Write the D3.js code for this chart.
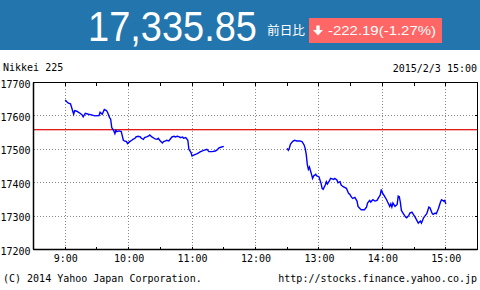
<!DOCTYPE html>
<html><head><meta charset="utf-8">
<script src="https://cdn.jsdelivr.net/npm/d3@7"></script>
<style>html,body{margin:0;padding:0;background:#fff;} svg{display:block;}</style>
</head><body><svg id="c" width="480" height="290"></svg>
<script>
const title = "Nikkei 225";
const dateLabel = "2015/2/3 15:00";
const lastPrice = "17,335.85";
const changeLabel = "前日比";
const changeText = "-222.19(-1.27%)";
const copyright = "(C) 2014 Yahoo Japan Corporation.";
const url = "http://stocks.finance.yahoo.co.jp";
const prevClose = 17558.04;
const yTicks = [17200, 17300, 17400, 17500, 17600, 17700];
const xTickLabels = ["9:00", "10:00", "11:00", "12:00", "13:00", "14:00", "15:00"];
const xMinorTicks = ["9:30", "10:30", "11:30", "12:30", "13:30", "14:30"];
const xDomain = ["8:30", "15:30"];

const amTimes = ["9:00","9:02","9:03","9:05","9:06","9:08","9:09","9:11","9:13","9:14","9:16","9:17","9:19","9:22","9:25","9:28","9:32","9:33","9:35","9:37","9:39","9:40","9:42","9:43","9:44","9:46","9:47","9:48","9:49","9:51","9:53","9:54","9:55","9:56","9:58","9:59","10:01","10:03","10:04","10:06","10:07","10:09","10:11","10:12","10:14","10:15","10:17","10:19","10:20","10:22","10:24","10:25","10:27","10:28","10:30","10:32","10:33","10:35","10:36","10:38","10:40","10:41","10:43","10:44","10:46","10:48","10:49","10:51","10:52","10:54","10:56","10:57","10:58","10:59","11:00","11:02","11:05","11:08","11:11","11:14","11:16","11:19","11:22","11:24","11:25","11:26","11:28","11:30"];
const amValues = [17648,17641,17638,17636,17626,17605,17616,17614,17610,17608,17603,17597,17608,17605,17603,17600,17601,17611,17605,17619,17616,17611,17595,17590,17565,17555,17547,17557,17553,17555,17553,17540,17527,17525,17523,17517,17523,17527,17530,17533,17537,17539,17537,17533,17530,17535,17537,17540,17543,17537,17533,17531,17530,17533,17525,17519,17523,17525,17527,17525,17533,17537,17539,17537,17539,17537,17535,17537,17533,17535,17527,17500,17495,17490,17480,17483,17487,17493,17497,17500,17493,17493,17495,17499,17503,17505,17507,17509];

const pmTimes = ["12:30","12:31","12:32","12:33","12:35","12:36","12:37","12:39","12:42","12:44","12:46","12:47","12:48","12:49","12:50","12:51","12:53","12:54","12:55","12:57","12:58","13:00","13:02","13:03","13:04","13:06","13:07","13:08","13:10","13:11","13:14","13:15","13:17","13:18","13:20","13:21","13:23","13:26","13:27","13:28","13:29","13:31","13:32","13:34","13:36","13:37","13:39","13:40","13:43","13:45","13:46","13:48","13:49","13:51","13:53","13:55","13:56","13:58","13:59","14:00","14:02","14:04","14:05","14:07","14:08","14:09","14:10","14:12","14:14","14:15","14:16","14:17","14:18","14:20","14:22","14:23","14:25","14:26","14:28","14:29","14:31","14:33","14:34","14:36","14:37","14:39","14:40","14:42","14:44","14:45","14:47","14:48","14:50","14:51","14:53","14:55","14:56","14:58","14:59","15:00"];
const pmValues = [17503,17497,17503,17515,17523,17525,17527,17525,17525,17523,17513,17503,17485,17455,17440,17447,17425,17413,17420,17425,17420,17418,17398,17383,17380,17393,17403,17396,17406,17413,17410,17413,17408,17400,17403,17393,17388,17383,17376,17368,17366,17356,17353,17356,17345,17329,17322,17319,17319,17327,17339,17347,17342,17349,17345,17347,17353,17363,17380,17370,17360,17349,17342,17329,17337,17327,17339,17329,17335,17360,17358,17342,17317,17307,17297,17295,17302,17309,17312,17307,17297,17285,17279,17285,17279,17295,17299,17307,17327,17325,17309,17305,17309,17307,17322,17342,17349,17345,17347,17336];

const svg = d3.select("#c");
const parse = d3.timeParse("%H:%M");
const L = 33.5, R = 477.5, T = 82.5, B = 249.5;
const x = d3.scaleTime().domain(xDomain.map(parse)).range([L, R]);
const y = d3.scaleLinear().domain([yTicks[0], yTicks[yTicks.length - 1]]).range([B, T]);
const snap = v => Math.round(v - 0.5) + 0.5;

// header
svg.append("rect").attr("x", 0).attr("y", 0).attr("width", 480).attr("height", 50).attr("fill", "#2375ad");
svg.append("text").attr("transform", "translate(88,41) scale(1,1.12)").attr("fill", "#fff")
  .attr("font-family", "Liberation Sans, Arial, sans-serif").attr("font-size", 38).text(lastPrice);
svg.append("text").attr("x", 267).attr("y", 35).attr("fill", "#fff")
  .attr("font-family", "Noto Sans CJK JP, sans-serif").attr("font-size", 12.5)
  .attr("textLength", 38).attr("lengthAdjust", "spacingAndGlyphs").text(changeLabel);
svg.append("rect").attr("x", 309).attr("y", 18).attr("width", 133).attr("height", 25).attr("fill", "#ff6666");
svg.append("path").attr("fill", "#fff")
  .attr("d", "M316.3,25.5 h3.4 v4.5 h3.3 l-5,5.5 l-5,-5.5 h3.3 z");
svg.append("text").attr("x", 328).attr("y", 35).attr("fill", "#fff")
  .attr("font-family", "Liberation Sans, Arial, sans-serif").attr("font-size", 13)
  .attr("textLength", 108).attr("lengthAdjust", "spacingAndGlyphs").text(changeText);

const mono = "DejaVu Sans Mono, monospace";
svg.append("text").attr("x", 3).attr("y", 71).attr("font-family", mono).attr("font-size", 10).attr("fill", "#000").text(title);
svg.append("text").attr("x", 477).attr("y", 72).attr("text-anchor", "end").attr("font-family", mono).attr("font-size", 10).attr("fill", "#000").text(dateLabel);
svg.append("text").attr("x", 3).attr("y", 282).attr("font-family", mono).attr("font-size", 10).attr("fill", "#000").text(copyright);
svg.append("text").attr("x", 477).attr("y", 282).attr("text-anchor", "end").attr("font-family", mono).attr("font-size", 10).attr("fill", "#000").text(url);

// gridlines
const grid = svg.append("g").attr("stroke", "#888").attr("stroke-width", 1).attr("stroke-dasharray", "1,2").attr("shape-rendering", "crispEdges");
grid.selectAll("line.v").data(xTickLabels).join("line")
  .attr("x1", d => snap(x(parse(d)))).attr("x2", d => snap(x(parse(d))))
  .attr("y1", T).attr("y2", B);
grid.selectAll("line.h").data(yTicks.slice(1, -1)).join("line").attr("class", "h")
  .attr("y1", d => snap(y(d))).attr("y2", d => snap(y(d)))
  .attr("x1", L).attr("x2", R);

// minor ticks
const tk = svg.append("g").attr("stroke", "#000").attr("shape-rendering", "crispEdges");
const allX = xTickLabels.concat(xMinorTicks);
tk.selectAll("line.t").data(allX).join("line").attr("class", "t")
  .attr("x1", d => snap(x(parse(d)))).attr("x2", d => snap(x(parse(d)))).attr("y1", T).attr("y2", T + 3);
tk.selectAll("line.b").data(allX).join("line").attr("class", "b")
  .attr("x1", d => snap(x(parse(d)))).attr("x2", d => snap(x(parse(d)))).attr("y1", B).attr("y2", B - 3);
tk.selectAll("line.r").data(yTicks.slice(1, -1)).join("line").attr("class", "r")
  .attr("y1", d => snap(y(d))).attr("y2", d => snap(y(d))).attr("x1", R).attr("x2", R - 3);

// previous close
svg.append("line").attr("x1", L).attr("x2", R).attr("y1", snap(y(prevClose)) + 1).attr("y2", snap(y(prevClose)) + 1)
  .attr("stroke", "#f6b4b4").attr("stroke-width", 1).attr("shape-rendering", "crispEdges");
svg.append("line").attr("x1", L).attr("x2", R).attr("y1", snap(y(prevClose))).attr("y2", snap(y(prevClose)))
  .attr("stroke", "#e31a1a").attr("stroke-width", 1).attr("shape-rendering", "crispEdges");

// frame
svg.append("rect").attr("x", L).attr("y", T).attr("width", R - L).attr("height", B - T)
  .attr("fill", "none").attr("stroke", "#000").attr("stroke-width", 1).attr("shape-rendering", "crispEdges");
svg.append("line").attr("x1", L).attr("x2", L).attr("y1", T).attr("y2", B).attr("stroke", "#000").attr("stroke-width", 1.5);
svg.append("line").attr("x1", L).attr("x2", R).attr("y1", B).attr("y2", B).attr("stroke", "#000").attr("stroke-width", 1.5);

// axes labels
const ya = svg.append("g").attr("transform", `translate(${L},0)`)
  .call(d3.axisLeft(y).tickValues(yTicks).tickSize(0).tickPadding(3).tickFormat(d3.format("d")));
ya.select(".domain").remove();
ya.selectAll("text").attr("font-family", mono).attr("font-size", 10).attr("fill", "#000").attr("dy", "0.45em");
const xa = svg.append("g").attr("transform", `translate(0,${B})`)
  .call(d3.axisBottom(x).tickValues(xTickLabels.map(parse)).tickSize(0).tickPadding(5).tickFormat(d3.timeFormat("%-H:%M")));
xa.select(".domain").remove();
xa.selectAll("text").attr("font-family", mono).attr("font-size", 10).attr("fill", "#000");

// price line
const line = d3.line().x(d => x(d.t)).y(d => y(d.v));
const sessions = [
  amTimes.map((t, i) => ({ t: parse(t), v: amValues[i] })),
  pmTimes.map((t, i) => ({ t: parse(t), v: pmValues[i] }))
];
svg.selectAll("path.price").data(sessions).join("path").attr("class", "price")
  .attr("d", line).attr("fill", "none").attr("stroke", "#0000ff").attr("stroke-width", 1.4)
  .attr("stroke-linejoin", "miter");
</script></body></html>
